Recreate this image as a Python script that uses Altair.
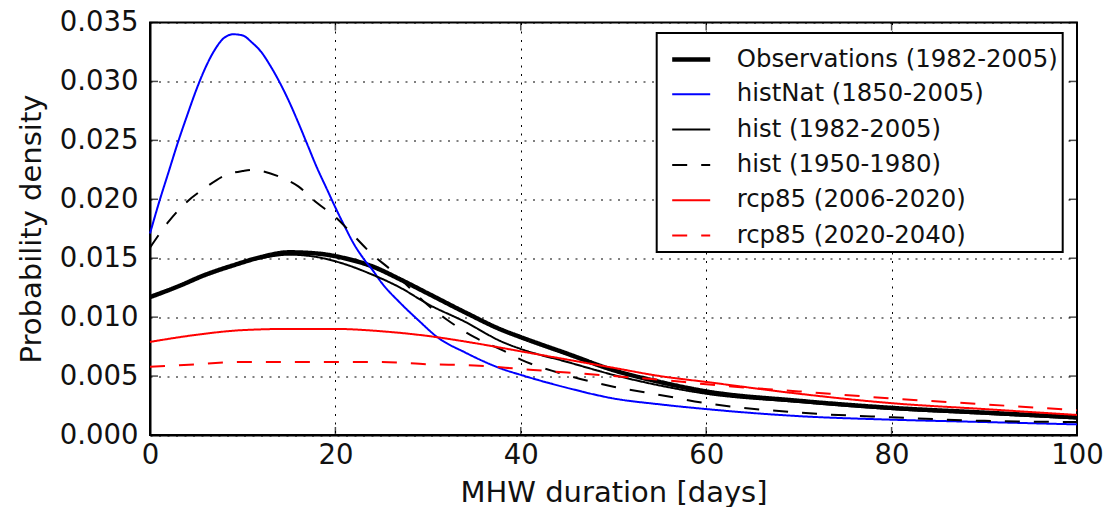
import altair as alt
import pandas as pd

series_names = [
    "Observations (1982-2005)",
    "histNat (1850-2005)",
    "hist (1982-2005)",
    "hist (1950-1980)",
    "rcp85 (2006-2020)",
    "rcp85 (2020-2040)",
]

obs_x = [0, 3, 6, 9, 12, 15, 18, 21, 24, 27, 30, 34, 38, 40, 45, 50, 55, 60, 70, 80, 90, 100]
obs_y = [0.0117, 0.0126, 0.0136, 0.0144, 0.0151, 0.0155, 0.0154, 0.0150, 0.0143, 0.0132, 0.0120,
         0.0104, 0.0089, 0.0083, 0.0069, 0.0055, 0.0045, 0.0037, 0.0029, 0.0023, 0.0019, 0.0015]

nat_x = [0, 1, 2, 3, 4, 5, 6, 7, 8, 9, 10, 11, 12, 13, 14, 15, 16, 17, 18, 19, 20, 21, 22, 23, 24,
         25, 27, 29, 31, 34, 38, 40, 45, 50, 55, 60, 70, 80, 90, 100]
nat_y = [0.0171, 0.0198, 0.0223, 0.0248, 0.0271, 0.0293, 0.0312, 0.0327, 0.0337, 0.0340, 0.0339,
         0.0333, 0.0325, 0.0313, 0.0299, 0.0283, 0.0265, 0.0246, 0.0227, 0.0210, 0.0193, 0.0177,
         0.0162, 0.0150, 0.0140, 0.0129, 0.0112, 0.0097, 0.0083, 0.0070, 0.0056, 0.0051, 0.0040,
         0.0031, 0.0026, 0.0022, 0.0016, 0.0013, 0.0011, 0.0009]

hist_x = [0, 3, 6, 9, 12, 15, 18, 21, 24, 27, 30, 34, 38, 40, 45, 50, 55, 60, 70, 80, 90, 100]
hist_y = [0.0117, 0.0126, 0.0136, 0.0144, 0.0150, 0.0153, 0.0151, 0.0145, 0.0136, 0.0125, 0.0111,
          0.0096, 0.0079, 0.0073, 0.0062, 0.0051, 0.0042, 0.0035, 0.0028, 0.0022, 0.0018, 0.0014]

h50_x = [0, 2, 4, 6, 8, 10, 11, 12, 14, 16, 18, 20, 22, 24, 26, 28, 30, 32, 35, 38, 40, 44, 50,
         55, 60, 70, 80, 90, 100]
h50_y = [0.0159, 0.0181, 0.0198, 0.0210, 0.0220, 0.0224, 0.0225, 0.0224, 0.0219, 0.0211, 0.0197,
         0.0185, 0.0169, 0.0153, 0.0140, 0.0125, 0.0110, 0.0098, 0.0083, 0.0072, 0.0064, 0.0053,
         0.0041, 0.0034, 0.0027, 0.0019, 0.0015, 0.0012, 0.0011]

rcp1_x = [0, 5, 10, 15, 20, 25, 30, 35, 40, 45, 50, 55, 60, 70, 80, 90, 100]
rcp1_y = [0.0079, 0.0085, 0.0089, 0.0090, 0.0090, 0.0088, 0.0084, 0.0078, 0.0071, 0.0064, 0.0057,
          0.0050, 0.0045, 0.0035, 0.0027, 0.0022, 0.0017]

rcp2_x = [0, 5, 10, 15, 20, 25, 30, 35, 40, 45, 50, 55, 60, 70, 80, 90, 100]
rcp2_y = [0.0058, 0.0060, 0.0062, 0.0062, 0.0062, 0.0062, 0.0060, 0.0059, 0.0056, 0.0053, 0.0050,
          0.0047, 0.0043, 0.0037, 0.0031, 0.0026, 0.0021]

x_ticks = [0, 20, 40, 60, 80, 100]
y_ticks = [0.0, 0.005, 0.010, 0.015, 0.020, 0.025, 0.030, 0.035]

series_xy = [(obs_x, obs_y), (nat_x, nat_y), (hist_x, hist_y), (h50_x, h50_y),
             (rcp1_x, rcp1_y), (rcp2_x, rcp2_y)]

rows = []
for name, (xs, ys) in zip(series_names, series_xy):
    for xv, yv in zip(xs, ys):
        rows.append({"series": name, "x": xv, "y": yv})
df = pd.DataFrame(rows)
xt_df = pd.DataFrame({"x": x_ticks})
yt_df = pd.DataFrame({"y": y_ticks})

FONT = "DejaVu Sans"
X_SCALE = alt.Scale(domain=[0, 100], nice=False)
Y_SCALE = alt.Scale(domain=[0, 0.035], nice=False)
X_TITLE = "MHW duration [days]"
Y_TITLE = "Probability density"
X_AXIS = alt.Axis(values=x_ticks, format="d", title=X_TITLE,
                  titleX=463.5, titleY=66, titleBaseline="alphabetic",
                  labelPadding=6, labelBaseline="top", labelFlush=False)
Y_AXIS = alt.Axis(values=y_ticks, format=".3f", title=Y_TITLE,
                  titleX=-110, titleY=206, titleBaseline="alphabetic", titleAngle=-90,
                  titleAlign="center", labelPadding=12, labelFlush=False)

legend = alt.Legend(
    title=None,
    orient="none",
    legendX=506.7,
    legendY=10.5,
    symbolType="stroke",
    symbolSize=1444,
    symbolOffset=8,
    labelFontSize=24.4,
    labelFont=FONT,
    labelColor="#111111",
    labelLimit=600,
    labelOffset=24,
    rowPadding=3.3,
    padding=5,
    strokeColor="black",
    fillColor="white",
)

lines = alt.Chart(df).mark_line(interpolate="monotone").encode(
    x=alt.X("x:Q", scale=X_SCALE, axis=X_AXIS, title=X_TITLE),
    y=alt.Y("y:Q", scale=Y_SCALE, axis=Y_AXIS, title=Y_TITLE),
    color=alt.Color("series:N",
                    scale=alt.Scale(domain=series_names,
                                    range=["#000000", "#0000ff", "#000000", "#000000", "#ff0000", "#ff0000"]),
                    legend=legend),
    strokeDash=alt.StrokeDash("series:N",
                              scale=alt.Scale(domain=series_names,
                                              range=[[1, 0], [1, 0], [1, 0], [15, 14], [1, 0], [15, 14]]),
                              legend=legend),
    strokeWidth=alt.StrokeWidth("series:N",
                                scale=alt.Scale(type="ordinal", domain=series_names,
                                                range=[4.5, 2, 2, 2, 2, 2]),
                                legend=legend),
)

tick_style = dict(size=8, thickness=1.5, color="black")
bottom_ticks = alt.Chart(xt_df).mark_tick(orient="vertical", yOffset=-4, **tick_style).encode(
    x=alt.X("x:Q", scale=X_SCALE, axis=X_AXIS, title=X_TITLE),
    y=alt.YDatum(0.0, scale=Y_SCALE, axis=Y_AXIS, title=Y_TITLE))
top_ticks = alt.Chart(xt_df).mark_tick(orient="vertical", yOffset=4, **tick_style).encode(
    x=alt.X("x:Q", scale=X_SCALE, axis=X_AXIS, title=X_TITLE),
    y=alt.YDatum(0.035, scale=Y_SCALE, axis=Y_AXIS, title=Y_TITLE))
left_ticks = alt.Chart(yt_df).mark_tick(orient="horizontal", xOffset=4, **tick_style).encode(
    y=alt.Y("y:Q", scale=Y_SCALE, axis=Y_AXIS, title=Y_TITLE),
    x=alt.XDatum(0, scale=X_SCALE, axis=X_AXIS, title=X_TITLE))
right_ticks = alt.Chart(yt_df).mark_tick(orient="horizontal", xOffset=-4, **tick_style).encode(
    y=alt.Y("y:Q", scale=Y_SCALE, axis=Y_AXIS, title=Y_TITLE),
    x=alt.XDatum(100, scale=X_SCALE, axis=X_AXIS, title=X_TITLE))

chart = alt.layer(lines, bottom_ticks, top_ticks, left_ticks, right_ticks).properties(
    width=927,
    height=412.5,
    autosize=alt.AutoSizeParams(type="none"),
    padding={"left": 142, "top": 14.5, "right": 26, "bottom": 72},
).configure(
    font=FONT,
).configure_view(
    stroke="black",
    strokeWidth=2,
).configure_axis(
    labelFont=FONT,
    titleFont=FONT,
    labelFontSize=27.5,
    titleFontSize=29,
    labelColor="#111111",
    titleColor="#111111",
    titleFontWeight="normal",
    domainColor="black",
    domainWidth=2,
    ticks=False,
    grid=True,
    gridColor="black",
    gridOpacity=1,
    gridWidth=1,
    gridDash=[2, 6.5],
).configure_legend(
    strokeWidth=2,
    cornerRadius=0,
)

chart.save("out.html", embed_options={"renderer": "svg", "actions": False})
